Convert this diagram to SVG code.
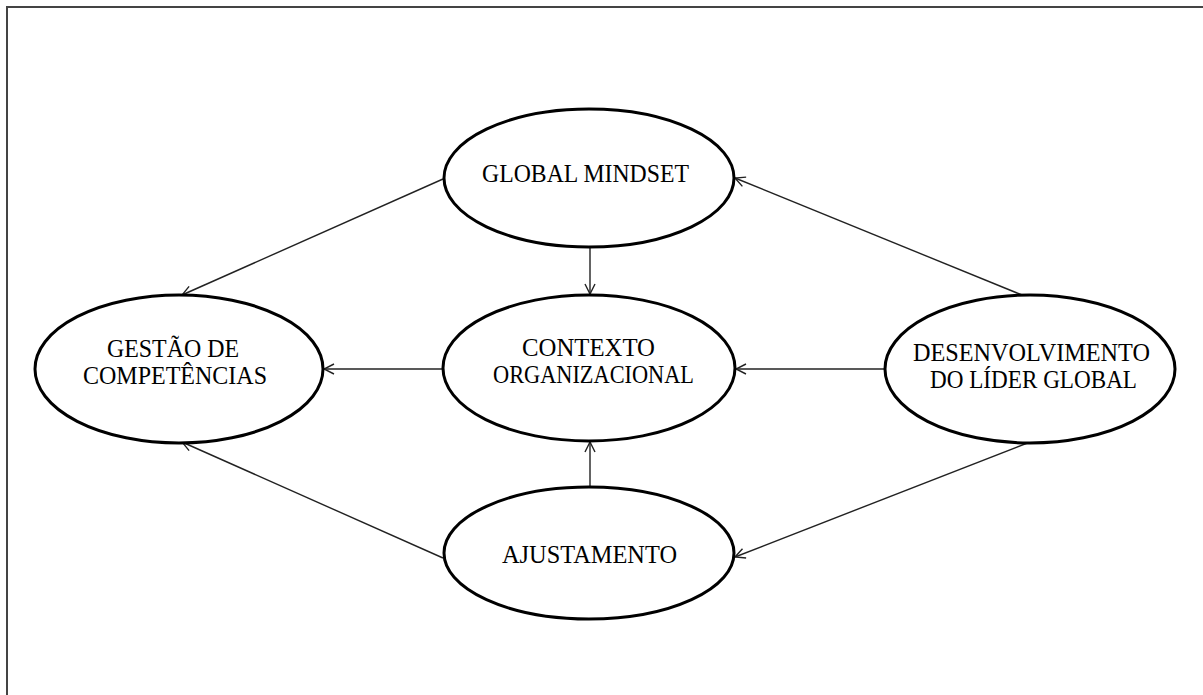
<svg xmlns="http://www.w3.org/2000/svg" width="1203" height="695" viewBox="0 0 1203 695">
  <style>
    .node { fill: #ffffff; stroke: #000000; stroke-width: 3; }
    .label { font-family: "Liberation Serif", "Times New Roman", serif; font-size: 25px; fill: #000000; text-anchor: middle; }
    .edge { stroke: #222222; stroke-width: 1.4; fill: none; marker-end: url(#open-arrow); }
    .frame { stroke: #444444; stroke-width: 2; fill: none; }
  </style>
  <defs>
    <marker id="open-arrow" viewBox="0 0 12 12" refX="11" refY="6" markerWidth="12" markerHeight="12" markerUnits="userSpaceOnUse" orient="auto">
      <path d="M1,1 L11,6 L1,11" fill="none" stroke="#222222" stroke-width="1.4"/>
    </marker>
  </defs>

  <rect width="1203" height="695" fill="#ffffff"/>
  <path class="frame" d="M7,695 V7 H1203"/>

  <g id="connectors">
    <line class="edge" x1="590" y1="247" x2="590" y2="294"/>
    <line class="edge" x1="590" y1="487" x2="590" y2="442"/>
    <line class="edge" x1="443" y1="369" x2="324" y2="369"/>
    <line class="edge" x1="885" y1="369" x2="736" y2="369"/>
    <line class="edge" x1="443" y1="179" x2="182" y2="295"/>
    <line class="edge" x1="1022" y1="295" x2="735" y2="178"/>
    <line class="edge" x1="443" y1="558" x2="182" y2="442"/>
    <line class="edge" x1="1030" y1="442" x2="735" y2="557"/>
  </g>

  <g id="global-mindset">
    <ellipse class="node" cx="589" cy="178" rx="145" ry="69"/>
    <text class="label" x="585.5" y="182" textLength="207" lengthAdjust="spacingAndGlyphs">GLOBAL MINDSET</text>
  </g>

  <g id="contexto-organizacional">
    <ellipse class="node" cx="589" cy="368" rx="146" ry="73"/>
    <text class="label" x="588.5" y="356" textLength="133" lengthAdjust="spacingAndGlyphs">CONTEXTO</text>
    <text class="label" x="593.5" y="383" textLength="201" lengthAdjust="spacingAndGlyphs">ORGANIZACIONAL</text>
  </g>

  <g id="gestao-de-competencias">
    <ellipse class="node" cx="179" cy="369" rx="144" ry="74"/>
    <text class="label" x="173" y="357" textLength="132" lengthAdjust="spacingAndGlyphs">GESTÃO DE</text>
    <text class="label" x="175" y="384" textLength="184" lengthAdjust="spacingAndGlyphs">COMPETÊNCIAS</text>
  </g>

  <g id="desenvolvimento-lider-global">
    <ellipse class="node" cx="1030" cy="369" rx="145" ry="74"/>
    <text class="label" x="1031.5" y="361" textLength="237" lengthAdjust="spacingAndGlyphs">DESENVOLVIMENTO</text>
    <text class="label" x="1033.5" y="388" textLength="207" lengthAdjust="spacingAndGlyphs">DO LÍDER GLOBAL</text>
  </g>

  <g id="ajustamento">
    <ellipse class="node" cx="589" cy="553" rx="145" ry="66"/>
    <text class="label" x="589.5" y="563" textLength="175" lengthAdjust="spacingAndGlyphs">AJUSTAMENTO</text>
  </g>
</svg>
